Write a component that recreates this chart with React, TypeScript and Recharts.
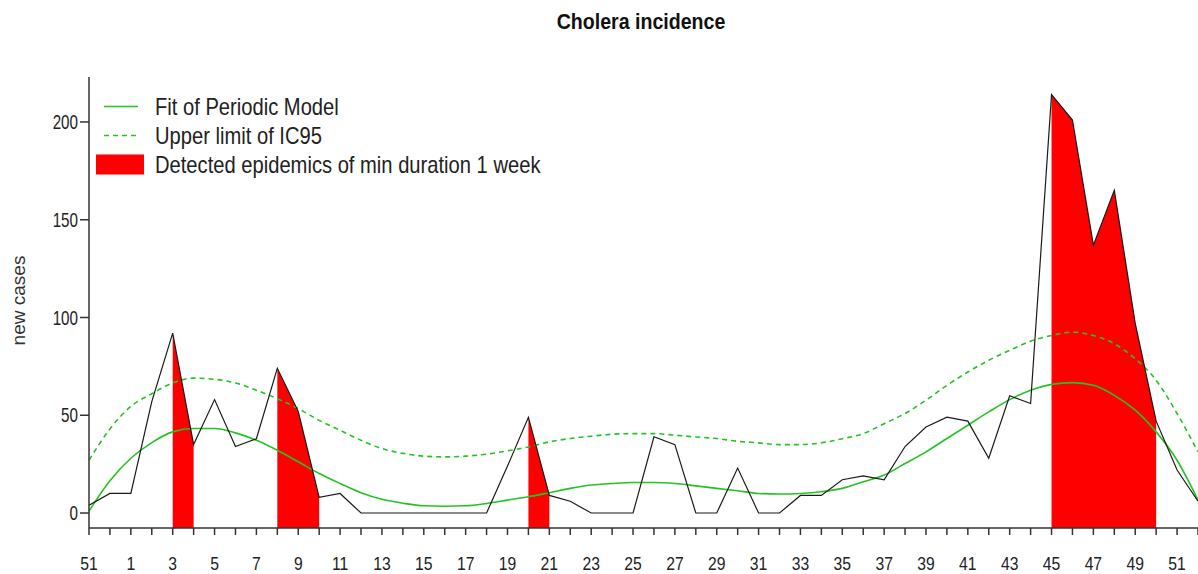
import { ComposedChart, Line, Area, XAxis, YAxis, Legend } from 'recharts';

const FONT = "'Liberation Sans', Arial, sans-serif";

// week numbers: last two weeks of the previous year, then a full year
const weeks = [
  51, 52, 1, 2, 3, 4, 5, 6, 7, 8, 9, 10, 11, 12, 13, 14, 15, 16, 17, 18, 19, 20, 21, 22, 23, 24, 25, 26,
  27, 28, 29, 30, 31, 32, 33, 34, 35, 36, 37, 38, 39, 40, 41, 42, 43, 44, 45, 46, 47, 48, 49, 50, 51, 52,
];

const cases = [
  4, 10, 10, 57, 92, 35, 58, 34, 38, 74, 52, 8, 10, 0, 0, 0, 0, 0, 0, 0, 24, 49, 9, 6, 0, 0, 0, 39,
  35, 0, 0, 23, 0, 0, 9, 9, 17, 19, 17, 34, 44, 49, 47, 28, 60, 56, 214, 201, 137, 165, 97, 47, 22, 6,
];

const fit = [
  1, 16.5, 28, 36, 41.5, 43.2, 43.2, 41, 37.2, 32.1, 26.2, 20.2, 15.1, 10.4, 7, 5, 3.7, 3.5, 3.7,
  4.9, 6.6, 8.3, 10.4, 12.6, 14.3, 15.1, 15.6, 15.6, 15.1, 13.9, 12.6, 11.4, 10, 9.7, 10, 10.9, 12.6,
  16, 19.4, 25.3, 31.3, 38.1, 44.9, 51.7, 58, 62.8, 65.8, 66.7, 65.3, 60.2, 52.6, 41.5, 27, 6.6,
];

const upper = [
  27, 43, 54.5, 61, 66.5, 69, 68.4, 66.5, 62.8, 58.5, 53.4, 47.4, 42.3, 37.2, 33, 30.5, 29.1, 28.7,
  29.1, 30.1, 31.8, 33.8, 36.4, 38.1, 39.3, 40.3, 40.6, 40.6, 39.8, 38.9, 38.1, 36.7, 35.9, 35, 35,
  35.9, 38, 40.6, 45.7, 50.9, 57.7, 65.3, 72.1, 78.1, 83.2, 87.9, 90.8, 92.5, 90.8, 86.6, 78.9, 67.9,
  50.9, 31.3,
];

// weeks of the current year flagged as epidemic
const epidemicWeeks = [3, 4, 8, 9, 10, 20, 21, 45, 46, 47, 48, 49, 50];

const yTicks = [0, 50, 100, 150, 200];

const legendItems = [
  { label: 'Fit of Periodic Model', kind: 'line' },
  { label: 'Upper limit of IC95', kind: 'dash' },
  { label: 'Detected epidemics of min duration 1 week', kind: 'rect' },
];

const data = weeks.map((week, i) => ({
  i,
  week,
  cases: cases[i],
  fit: fit[i],
  upper: upper[i],
  epi: i >= 2 && i < 52 && epidemicWeeks.includes(week) ? cases[i] : null,
}));

const XTick = ({ x, y, payload }: any) => {
  const idx = payload.value;
  if (idx % 2 !== 0) return null;
  return (
    <text
      transform={`translate(${x} ${y + 33}) scale(0.85 1)`}
      textAnchor="middle"
      fontSize={18.5}
      fontFamily={FONT}
      fill="#222"
    >
      {weeks[idx]}
    </text>
  );
};

const YTick = ({ x, y, payload }: any) => (
  <text
    transform={`translate(${x} ${y}) scale(0.76 1)`}
    textAnchor="end"
    dy="0.36em"
    fontSize={20}
    fontFamily={FONT}
    fill="#222"
  >
    {payload.value}
  </text>
);

const YLabel = ({ viewBox }: any) => (
  <text
    transform={`translate(${viewBox.x + 24.5} ${viewBox.y + viewBox.height / 2 - 2}) rotate(-90)`}
    textAnchor="middle"
    fontSize={19}
    fontFamily={FONT}
    fill="#333"
  >
    new cases
  </text>
);

const LegendBox = () => (
  <div style={{ fontFamily: FONT }}>
    {legendItems.map((item) => (
      <div key={item.label} style={{ display: 'flex', alignItems: 'center', height: 29 }}>
        <svg width={59} height={29} style={{ flexShrink: 0 }}>
          {item.kind === 'rect' ? (
            <rect x={0} y={4.5} width={48} height={20} fill="#ff0000" />
          ) : (
            <line
              x1={8}
              x2={42}
              y1={14.5}
              y2={14.5}
              stroke="#22c422"
              strokeWidth={1.5}
              strokeDasharray={item.kind === 'dash' ? '5 4' : undefined}
            />
          )}
        </svg>
        <span
          style={{
            fontSize: 24,
            color: '#222',
            whiteSpace: 'nowrap',
            transform: 'scaleX(0.84)',
            transformOrigin: 'left center',
            display: 'inline-block',
            flexShrink: 0,
          }}
        >
          {item.label}
        </span>
      </div>
    ))}
  </div>
);

export default function App() {
  return (
    <div style={{ position: 'absolute', left: 0, top: 0, width: 1198, height: 574, background: '#fff' }}>
      <div
        style={{
          position: 'absolute',
          left: 641,
          top: 11,
          fontFamily: FONT,
          fontSize: 22,
          fontWeight: 'bold',
          lineHeight: '22px',
          color: '#111',
          whiteSpace: 'nowrap',
          transform: 'translateX(-50%) scaleX(0.89)',
          zIndex: 2,
        }}
      >
        Cholera incidence
      </div>
      <ComposedChart width={1198} height={574} data={data} margin={{ top: 77, right: 0, left: 0, bottom: 0 }}>
        <XAxis
          type="number"
          dataKey="i"
          domain={[0, 53]}
          ticks={data.map((d) => d.i)}
          interval={0}
          tick={<XTick />}
          tickSize={7}
          height={46}
          stroke="#333"
          tickLine={{ stroke: '#333', strokeWidth: 1.5 }}
          axisLine={{ stroke: '#333', strokeWidth: 1.5 }}
        />
        <YAxis
          type="number"
          domain={[-7.66, 223]}
          allowDataOverflow
          ticks={yTicks}
          interval={0}
          tick={<YTick />}
          tickSize={9}
          width={89}
          stroke="#333"
          tickLine={{ stroke: '#333', strokeWidth: 1.5 }}
          axisLine={{ stroke: '#333', strokeWidth: 1.5 }}
          label={{ content: <YLabel /> }}
        />
        <Legend
          layout="horizontal"
          verticalAlign="middle"
          align="center"
          content={<LegendBox />}
          wrapperStyle={{ top: 92, left: 96, width: 600 }}
        />
        <Area
          type="linear"
          dataKey="epi"
          stroke="none"
          fill="#ff0000"
          fillOpacity={1}
          baseValue="dataMin"
          connectNulls={false}
          isAnimationActive={false}
        />
        <Line
          type="monotone"
          dataKey="upper"
          stroke="#22c422"
          strokeWidth={1.6}
          strokeDasharray="5 4"
          dot={false}
          isAnimationActive={false}
        />
        <Line
          type="monotone"
          dataKey="fit"
          stroke="#22c422"
          strokeWidth={1.6}
          dot={false}
          isAnimationActive={false}
        />
        <Line
          type="linear"
          dataKey="cases"
          stroke="#1a1a1a"
          strokeWidth={1.2}
          dot={false}
          isAnimationActive={false}
        />
      </ComposedChart>
    </div>
  );
}
